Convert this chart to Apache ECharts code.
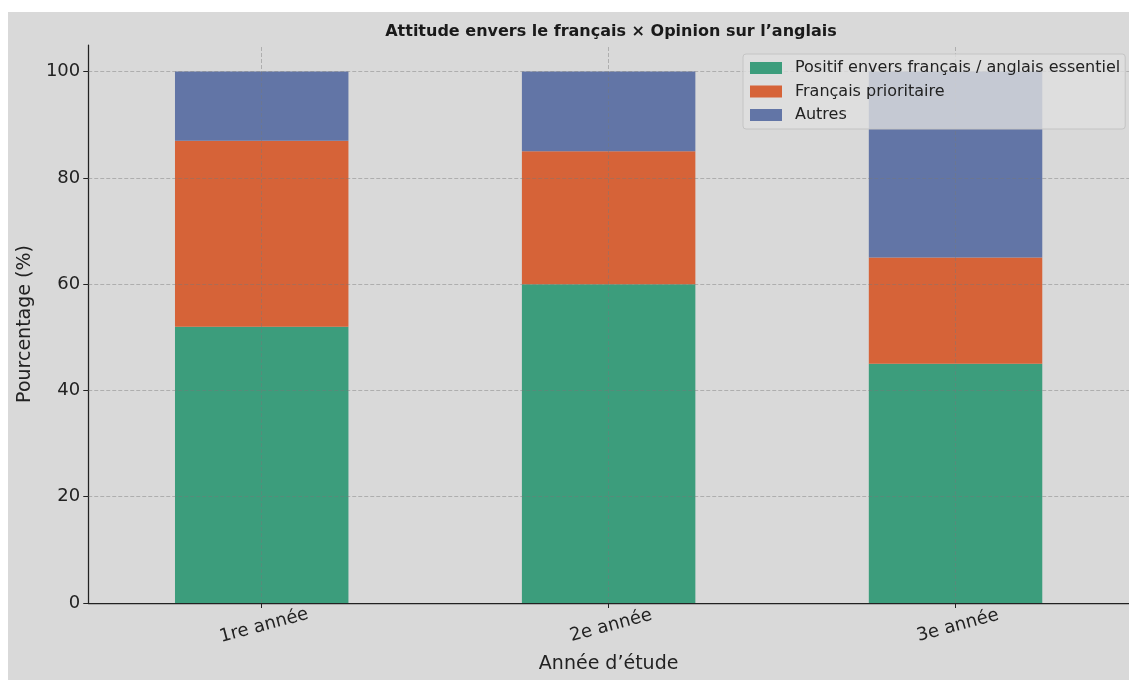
<!DOCTYPE html>
<html>
<head>
<meta charset="utf-8">
<script src="https://cdn.jsdelivr.net/npm/echarts@6/dist/echarts.min.js"></script>
<style>
  html, body { margin: 0; padding: 0; background: #ffffff; width: 1129px; height: 680px; overflow: hidden; }
  #chart { position: absolute; left: 8px; top: 12px; width: 1121px; height: 668px; }
</style>
</head>
<body>
<div id="chart"></div>
<script>
// Study year categories
const categories = ['1re année', '2e année', '3e année'];
// Share of students (%) in each attitude group
const positifValues = [52, 60, 45];
const prioritaireValues = [35, 25, 20];
const autresValues = [13, 15, 35];
// Y axis ticks
const yTicks = [0, 20, 40, 60, 80, 100];

const seriesNames = [
  'Positif envers français / anglais essentiel',
  'Français prioritaire',
  'Autres'
];
const colors = ['#3c9d7c', '#d66338', '#6275a6'];
const gridLine = { type: [4, 2], color: 'rgba(120,120,120,0.55)', width: 0.8 };
const font = 'DejaVu Sans';

const chart = echarts.init(document.getElementById('chart'), null, { renderer: 'canvas' });

function barSeries(name, data, color, extra) {
  return Object.assign({
    name: name,
    type: 'bar',
    stack: 'total',
    data: data,
    barWidth: '50%',
    itemStyle: { color: color },
    emphasis: { disabled: true }
  }, extra || {});
}

chart.setOption({
  backgroundColor: '#d9d9d9',
  animation: false,
  color: colors,
  title: {
    text: 'Attitude envers le français × Opinion sur l’anglais',
    left: 598,
    top: 7,
    textAlign: 'center',
    textStyle: { fontFamily: font, fontWeight: 'bold', fontSize: 16, color: '#1a1a1a' }
  },
  legend: {
    orient: 'vertical',
    left: 735,
    top: 42,
    z: 10,
    padding: [6, 5, 6, 7],
    itemGap: 7.5,
    itemWidth: 32,
    itemHeight: 12,
    icon: 'rect',
    backgroundColor: 'rgba(222,222,222,0.8)',
    borderColor: '#c4c4c4',
    borderWidth: 1,
    borderRadius: 3,
    selectedMode: false,
    textStyle: { fontFamily: font, fontSize: 16, color: '#222', lineHeight: 16, padding: [0, 0, 0, 8] },
    data: seriesNames
  },
  grid: { left: 80, right: 0, top: 33, bottom: 77, containLabel: false },
  xAxis: {
    type: 'category',
    data: categories,
    name: 'Année d’étude',
    nameLocation: 'middle',
    nameGap: 52,
    nameTextStyle: { fontFamily: font, fontSize: 19, color: '#222' },
    axisLine: { lineStyle: { color: '#222', width: 1.25 } },
    axisTick: { show: true, alignWithLabel: true, length: 5, lineStyle: { color: '#222', width: 1 } },
    axisLabel: {
      rotate: 15, align: 'center', verticalAlign: 'top', margin: 14,
      fontFamily: font, fontSize: 18, color: '#222'
    },
    splitLine: { show: false }
  },
  yAxis: {
    type: 'value',
    min: 0,
    max: 105,
    interval: 20,
    name: 'Pourcentage (%)',
    nameLocation: 'middle',
    nameGap: 47,
    nameTextStyle: { fontFamily: font, fontSize: 19, color: '#222' },
    axisLine: { show: true, lineStyle: { color: '#222', width: 1.25 } },
    axisTick: { show: true, length: 5, customValues: yTicks, lineStyle: { color: '#222', width: 1 } },
    axisLabel: { customValues: yTicks, fontFamily: font, fontSize: 18, color: '#222', margin: 8 },
    splitLine: { show: false }
  },
  series: [
    barSeries(seriesNames[0], positifValues, colors[0]),
    barSeries(seriesNames[1], prioritaireValues, colors[1]),
    barSeries(seriesNames[2], autresValues, colors[2], {
      // dashed grid drawn over the bars
      markLine: {
        silent: true,
        symbol: 'none',
        label: { show: false },
        lineStyle: gridLine,
        emphasis: { disabled: true },
        data: categories.map((c) => ({ xAxis: c })).concat(
          yTicks.filter((v) => v > 0).map((v) => ({ yAxis: v }))
        )
      }
    })
  ]
});
</script>
</body>
</html>
